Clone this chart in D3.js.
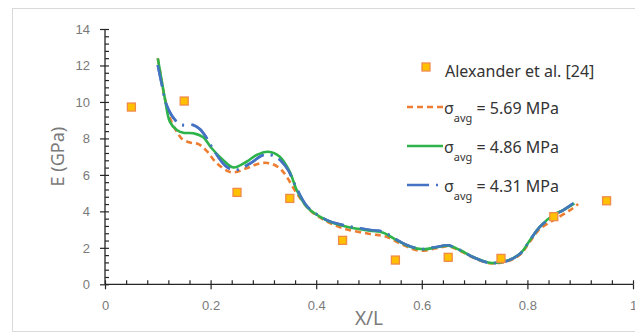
<!DOCTYPE html>
<html>
<head>
<meta charset="utf-8">
<script src="https://cdn.jsdelivr.net/npm/d3@7"></script>
<style>
  body { margin: 0; background: #fff; }
  svg { font-family: "Noto Sans", sans-serif; }
</style>
</head>
<body>
<div id="chart"></div>
<script>
// experimental points (Alexander et al.)
var alexX = [0.05, 0.15, 0.25, 0.35, 0.45, 0.55, 0.65, 0.75, 0.85, 0.95];
var alexE = [9.72, 10.05, 5.04, 4.71, 2.41, 1.33, 1.48, 1.42, 3.71, 4.58];

// sigma_avg = 5.69 MPa
var s569X = [0.100, 0.104, 0.114, 0.126, 0.136, 0.145, 0.161, 0.177, 0.193, 0.212, 0.240, 0.268, 0.294, 0.313, 0.331, 0.344, 0.363, 0.388, 0.413, 0.451, 0.502, 0.533, 0.565, 0.597, 0.628, 0.650, 0.672, 0.698, 0.729, 0.761, 0.787, 0.805, 0.824, 0.852, 0.881, 0.896];
var s569E = [12.39, 11.73, 10.1, 8.9, 8.37, 8.0, 7.77, 7.69, 7.3, 6.63, 6.14, 6.36, 6.64, 6.63, 6.36, 5.9, 5.0, 4.07, 3.56, 3.07, 2.76, 2.61, 2.15, 1.84, 1.98, 2.08, 1.84, 1.45, 1.15, 1.25, 1.65, 2.35, 3.05, 3.56, 4.07, 4.40];

// sigma_avg = 4.86 MPa
var s486X = [0.100, 0.104, 0.114, 0.123, 0.136, 0.148, 0.167, 0.186, 0.202, 0.224, 0.243, 0.268, 0.287, 0.309, 0.331, 0.350, 0.363, 0.382, 0.407, 0.426, 0.458, 0.502, 0.527, 0.552, 0.578, 0.603, 0.628, 0.650, 0.672, 0.698, 0.729, 0.761, 0.787, 0.805, 0.824, 0.849, 0.868, 0.889];
var s486E = [12.39, 11.73, 10.1, 8.91, 8.46, 8.31, 8.28, 8.06, 7.46, 6.81, 6.41, 6.72, 7.09, 7.27, 7.0, 6.17, 5.17, 4.25, 3.71, 3.43, 3.16, 2.94, 2.83, 2.43, 2.06, 1.92, 2.03, 2.12, 1.88, 1.48, 1.18, 1.29, 1.70, 2.43, 3.16, 3.80, 4.07, 4.44];

// sigma_avg = 4.31 MPa
var s431X = [0.100, 0.108, 0.117, 0.133, 0.145, 0.167, 0.180, 0.193, 0.202, 0.230, 0.249, 0.275, 0.300, 0.320, 0.334, 0.347, 0.360, 0.382, 0.407, 0.426, 0.458, 0.502, 0.527, 0.552, 0.578, 0.603, 0.628, 0.650, 0.672, 0.698, 0.729, 0.761, 0.787, 0.805, 0.824, 0.849, 0.868, 0.887];
var s431E = [12.02, 10.9, 9.8, 9.0, 8.75, 8.73, 8.5, 8.0, 7.54, 6.45, 6.27, 6.63, 7.09, 7.05, 6.75, 6.27, 5.44, 4.3, 3.72, 3.45, 3.2, 2.98, 2.88, 2.45, 2.08, 1.93, 2.05, 2.14, 1.88, 1.48, 1.17, 1.28, 1.70, 2.43, 3.16, 3.75, 4.07, 4.44];

var yMajor = [0, 2, 4, 6, 8, 10, 12, 14];
var xMajor = [0, 0.2, 0.4, 0.6, 0.8, 1];

var W = 635, H = 333;
var margin = {top: 29, right: 2, bottom: 48.7, left: 105},
    width = W - margin.left - margin.right,
    height = H - margin.top - margin.bottom;

var root = d3.select("#chart")
    .append("svg")
        .attr("width", W)
        .attr("height", H);

// chart frame
root.append("rect")
    .attr("x", 12.5).attr("y", 8.5)
    .attr("width", 640).attr("height", 323)
    .style("fill", "none")
    .style("stroke", "#d9d9d9");

var svg = root.append("g")
    .attr("transform", "translate(" + margin.left + "," + margin.top + ")");

var x = d3.scaleLinear().domain([0, 1]).range([0, width]);
var y = d3.scaleLinear().domain([0, 14]).range([height, 0]);

var yMinor = d3.range(0, 14.001, 0.4).map(function(d){ return +d.toFixed(1); });
var xMinor = d3.range(0, 1.0001, 0.04).map(function(d){ return +d.toFixed(2); });

// y axis: labels + outer part of major ticks
svg.append("g")
    .attr("class", "axis")
    .call(d3.axisLeft(y).tickValues(yMajor).tickSize(5).tickPadding(10))
    .call(function(g){ g.select(".domain").remove(); });
// inner ticks (major + minor)
svg.append("g")
    .attr("class", "axis")
    .call(d3.axisRight(y).tickValues(yMinor).tickSize(4).tickFormat(""))
    .call(function(g){ g.select(".domain").remove(); });

// x axis
svg.append("g")
    .attr("class", "axis")
    .attr("transform", "translate(0," + height + ")")
    .call(d3.axisBottom(x).tickValues(xMajor).tickSize(5).tickPadding(11)
        .tickFormat(function(d){ return d === 0 || d === 1 ? d : d.toFixed(1); }))
    .call(function(g){ g.select(".domain").remove(); });
svg.append("g")
    .attr("class", "axis")
    .attr("transform", "translate(0," + height + ")")
    .call(d3.axisTop(x).tickValues(xMinor).tickSize(4).tickFormat(""))
    .call(function(g){ g.select(".domain").remove(); });

// axis lines
svg.append("line")
    .attr("x1", 0).attr("x2", 0).attr("y1", 0).attr("y2", height)
    .style("stroke", "#262626").style("stroke-width", 1.3);
svg.append("line")
    .attr("x1", 0).attr("x2", width).attr("y1", height).attr("y2", height)
    .style("stroke", "#262626").style("stroke-width", 1.3);

svg.selectAll(".axis line").style("stroke", "#262626").style("stroke-width", 1.2);
svg.selectAll(".axis text")
    .style("font-size", "13px")
    .style("font-family", "inherit")
    .style("fill", "#7a7a7a");

// axis titles
svg.append("text")
    .attr("transform", "translate(-41," + (height / 2) + ") rotate(-90)")
    .attr("text-anchor", "middle")
    .style("font-size", "18px")
    .style("fill", "#7a7a7a")
    .text("E (GPa)");
svg.append("text")
    .attr("x", width / 2)
    .attr("y", height + 41)
    .attr("text-anchor", "middle")
    .style("font-size", "19px")
    .style("fill", "#7a7a7a")
    .text("X/L");

// simulated curves
function pts(xs, es) { return xs.map(function(d, i){ return [d, es[i]]; }); }
var line = d3.line()
    .x(function(d){ return x(d[0]); })
    .y(function(d){ return y(d[1]); })
    .curve(d3.curveCatmullRom.alpha(0.5));

var series = [
    {name: "5.69", data: pts(s569X, s569E), color: "#ED7D31", dash: "6,4"},
    {name: "4.86", data: pts(s486X, s486E), color: "#2DB34A", dash: null},
    {name: "4.31", data: pts(s431X, s431E), color: "#4472C4", dash: "22,7,2,7"}
];

svg.selectAll(".curve")
    .data([series[0], series[2]])
    .enter()
    .append("path")
        .attr("class", "curve")
        .attr("d", function(d){ return line(d.data); })
        .style("fill", "none")
        .style("stroke", function(d){ return d.color; })
        .style("stroke-width", 2.6)
        .style("stroke-dasharray", function(d){ return d.dash; });
svg.append("path")
    .attr("d", line(series[1].data))
    .style("fill", "none")
    .style("stroke", series[1].color)
    .style("stroke-width", 2.6);
// blue drawn again on top where it separates from green
svg.append("path")
    .attr("d", line(series[2].data))
    .style("fill", "none")
    .style("stroke", series[2].color)
    .style("stroke-width", 2.6)
    .style("stroke-dasharray", series[2].dash)
    .style("opacity", 0.9);

// experimental squares
svg.selectAll(".exp")
    .data(pts(alexX, alexE))
    .enter()
    .append("rect")
        .attr("class", "exp")
        .attr("x", function(d){ return x(d[0]) - 4; })
        .attr("y", function(d){ return y(d[1]) - 4; })
        .attr("width", 8)
        .attr("height", 8)
        .style("fill", "#FFC000")
        .style("stroke", "#F08A4B")
        .style("stroke-width", 1.3);

// legend
var lg = root.append("g");
lg.append("rect")
    .attr("x", 422).attr("y", 63)
    .attr("width", 8).attr("height", 8)
    .style("fill", "#FFC000")
    .style("stroke", "#F08A4B")
    .style("stroke-width", 1.3);
lg.append("text")
    .attr("x", 445).attr("y", 77)
    .style("font-size", "16px")
    .style("fill", "#333")
    .text("Alexander et al. [24]");

var rowY = [114, 153, 192];
series.forEach(function(s, i){
    var by = rowY[i];
    lg.append("line")
        .attr("x1", 407).attr("x2", 443)
        .attr("y1", by - 7).attr("y2", by - 7)
        .style("stroke", s.color)
        .style("stroke-width", 2.6)
        .style("stroke-dasharray", s.dash);
    var t = lg.append("text")
        .attr("x", 444).attr("y", by)
        .style("font-size", "16px")
        .style("fill", "#333");
    t.append("tspan").text("\u03C3");
    t.append("tspan").attr("dy", 8).style("font-size", "11px").text("avg");
    t.append("tspan").attr("dy", -8).text(" = " + s.name + " MPa");
});
</script>
</body>
</html>
